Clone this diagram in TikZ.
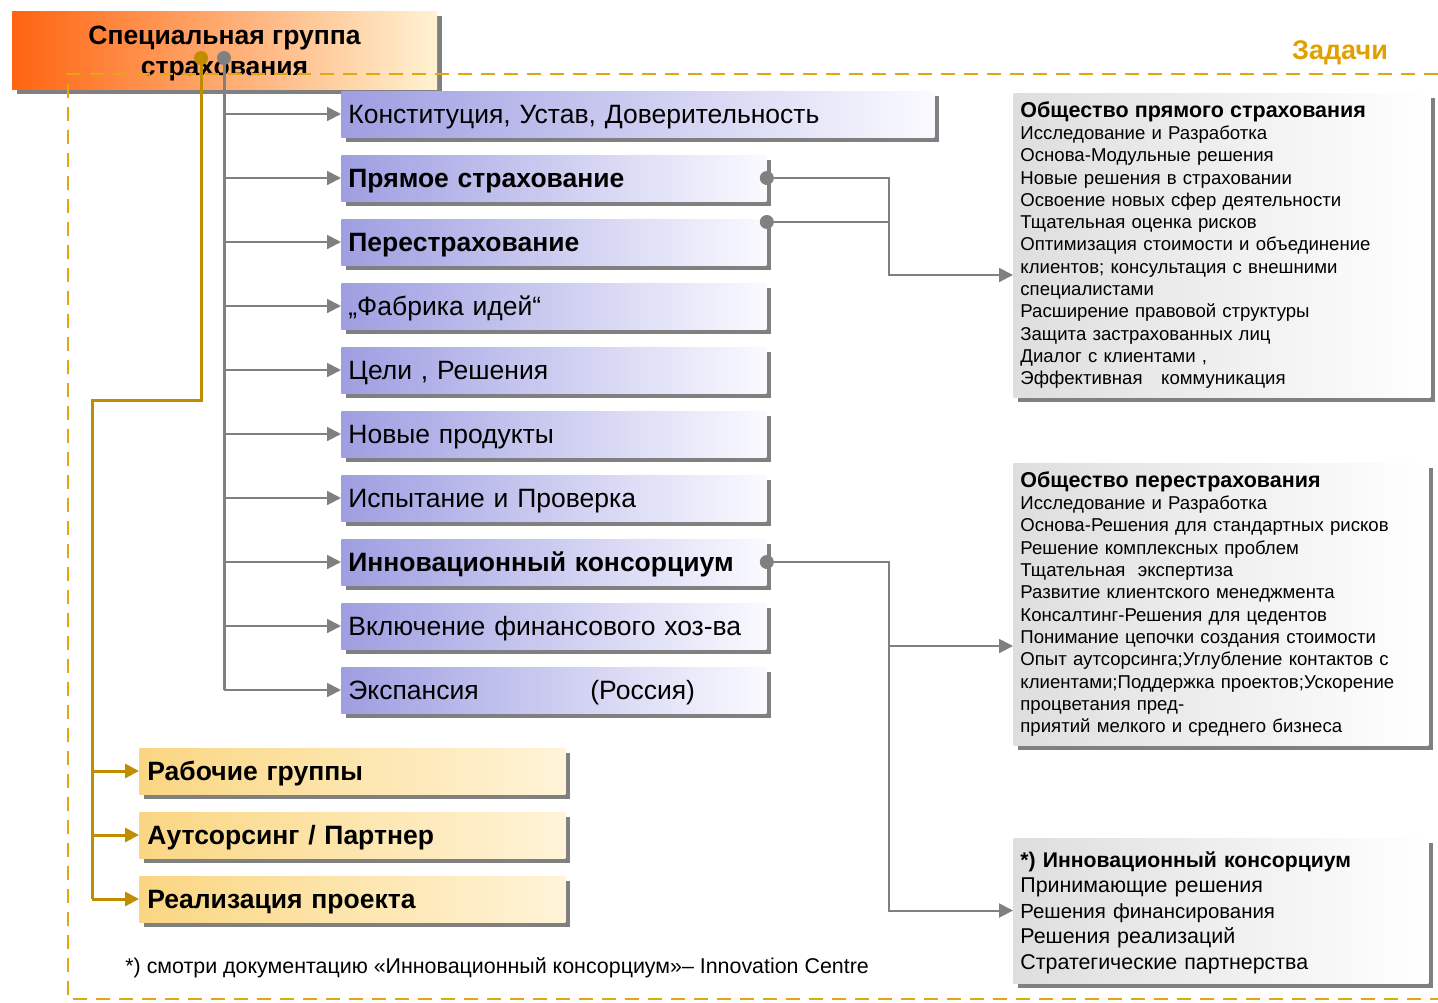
\documentclass[tikz,border=0pt]{standalone}
\usepackage{fontspec}
\setmainfont{Liberation Sans}
\usetikzlibrary{arrows.meta,shadows}
\definecolor{shadowgray}{RGB}{128,128,128}
\definecolor{lineGray}{RGB}{128,128,128}
\definecolor{goldLine}{RGB}{192,140,0}
\definecolor{frameGold}{RGB}{224,166,20}
\definecolor{titleGold}{RGB}{224,160,0}
\definecolor{blueL}{RGB}{158,158,226}
\definecolor{blueR}{RGB}{250,250,255}
\definecolor{yelL}{RGB}{250,214,130}
\definecolor{yelR}{RGB}{255,244,216}
\definecolor{orL}{RGB}{255,100,16}
\definecolor{orR}{RGB}{255,242,210}
\definecolor{grL}{RGB}{222,222,222}
\newcommand\fBig{\fontsize{13.25}{15.5}\selectfont}
\newcommand\fMid{\fontsize{10.7}{12}\selectfont}
\newcommand\fSm{\fontsize{9.3}{11.15}\selectfont}
\newcommand\lowr[1]{\raisebox{-1pt}[\height][\depth]{#1}}
\tikzset{
  sh/.style={general shadow={fill=shadowgray, shadow xshift=2.5pt, shadow yshift=-2.5pt}},
  hdrbox/.style={sh, left color=orL, right color=orR, minimum width=212.5pt, minimum height=39pt,
    inner sep=0pt, font=\fBig\bfseries},
  bluebox/.style={sh, left color=blueL, right color=blueR, anchor=west, minimum height=23pt,
    inner xsep=3.5pt, inner ysep=0pt, text width=205.5pt, align=left, font=\fBig,
    text height=12pt, text depth=2.5pt},
  ybox/.style={sh, left color=yelL, right color=yelR, anchor=west, minimum height=23pt,
    inner xsep=4pt, inner ysep=0pt, text width=205pt, align=left, font=\fBig\bfseries,
    text height=12pt, text depth=2.5pt},
  rbox/.style={sh, left color=grL, right color=white, anchor=west,
    inner xsep=3.5pt, inner ysep=0pt, align=left, font=\fSm},
  gl/.style={draw=lineGray, line width=1pt},
  garrow/.style={gl, -{Triangle[length=7pt,width=7pt]}},
  yl/.style={draw=goldLine, line width=1.5pt},
  yarrow/.style={yl, -{Triangle[length=7pt,width=7pt]}},
  gdotst/.style={circle, fill=lineGray, inner sep=0pt, minimum size=7pt},
  ydotst/.style={circle, fill=goldLine, inner sep=0pt, minimum size=7pt},
  dashframe/.style={draw=frameGold, line width=1pt, dash pattern=on 7pt off 4.5pt},
}
\begin{document}
\begin{tikzpicture}[x=0.5pt,y=-0.5pt]
\useasboundingbox (0,0) rectangle (1438,1002);
\fill[white] (0,0) rectangle (1438,1002);

% header
\node[hdrbox] (hdr) at (224.5,50) {\raisebox{-2pt}[\height][\depth]{\begin{tabular}{@{}c@{}}Специальная группа\\страхования\end{tabular}}};
\node[font=\fontsize{13.5}{15}\selectfont\bfseries, text=titleGold] (tasks) at (1340,53) {Задачи};

% dashed frame
\draw[dashframe] (1438,74) -- (68,74) -- (68,999) -- (1438,999);

% blue boxes
\node[bluebox, text width=289.5pt] (b1) at (341,114) {Конституция, Устав, Доверительность};
\node[bluebox, font=\fBig\bfseries] (b2) at (341,178) {Прямое страхование};
\node[bluebox, font=\fBig\bfseries] (b3) at (341,242) {Перестрахование};
\node[bluebox] (b4) at (341,306) {„Фабрика идей“};
\node[bluebox] (b5) at (341,370) {Цели , Решения};
\node[bluebox] (b6) at (341,434) {Новые продукты};
\node[bluebox] (b7) at (341,498) {Испытание и Проверка};
\node[bluebox, font=\fBig\bfseries] (b8) at (341,562) {Инновационный консорциум};
\node[bluebox] (b9) at (341,626) {Включение финансового хоз-ва};
\node[bluebox] (b10) at (341,690) {\makebox[121pt][l]{Экспансия}(Россия)};

% yellow boxes
\node[ybox] (y1) at (139,771) {Рабочие группы};
\node[ybox] (y2) at (139,835) {Аутсорсинг / Партнер};
\node[ybox] (y3) at (139,899) {Реализация проекта};

% right boxes
\node[rbox, text width=201.5pt, minimum height=152pt] (r1) at (1013,245) {%
\textbf{\fontsize{10.75}{11.15}\selectfont Общество прямого страхования}\\
Исследование и Разработка\\
Основа-Модульные решения\\
Новые решения в страховании\\
Освоение новых сфер деятельности\\
Тщательная оценка рисков\\
Оптимизация стоимости и объединение\\
клиентов; консультация с внешними\\
специалистами\\
Расширение правовой структуры\\
Защита застрахованных лиц\\
Диалог с клиентами ,\\
Эффективная\ \ \ коммуникация};
\node[rbox, text width=200.5pt, minimum height=141pt] (r2) at (1013,604) {%
\textbf{\fontsize{10.75}{11.15}\selectfont Общество перестрахования}\\
Исследование и Разработка\\
Основа-Решения для стандартных рисков\\
Решение комплексных проблем\\
Тщательная\ \ экспертиза\\
Развитие клиентского менеджмента\\
Консалтинг-Решения для цедентов\\
Понимание цепочки создания стоимости\\
Опыт аутсорсинга;Углубление контактов с\\
клиентами;Поддержка проектов;Ускорение\\
процветания пред-\\
приятий мелкого и среднего бизнеса};
\node[rbox, text width=200.5pt, minimum height=72.5pt, font=\fontsize{10.7}{12.75}\selectfont] (r3) at (1013,910.5) {%
\lowr{\textbf{\fontsize{10.6}{12.75}\selectfont *) Инновационный консорциум}}\\
\lowr{Принимающие решения}\\
\lowr{\fontsize{10.2}{12.75}\selectfont Решения финансирования}\\
\lowr{Решения реализаций}\\
\lowr{Стратегические партнерства}};

% footnote
\node[anchor=west, font=\fMid, inner sep=0pt] (fn) at (125,968) {*) смотри документацию «Инновационный консорциум»– Innovation Centre};

% gold connectors
\node[ydotst] (gdot) at (201,58) {};
\coordinate (gk) at (92,400);
\draw[yl] (gdot.center) -- (gdot.center |- gk) -- (gk) -- (gk |- y3.west);
\foreach \i in {1,2,3} \draw[yarrow] (gk |- y\i.west) -- (y\i.west);

% gray trunk
\node[gdotst] (pdot) at (224,58) {};
\draw[gl, line width=1.5pt] (pdot.center) -- (pdot.center |- b10.west);
\foreach \i in {1,...,10} \draw[garrow] (pdot.center |- b\i.west) -- (b\i.west);

% right connectors
\node[gdotst] (d1) at (b2.east) {};
\node[gdotst] (d2) at ([yshift=10pt]b3.east) {};
\node[gdotst] (d3) at (b8.east) {};
\coordinate (vx) at (889,0);
\coordinate (r1in) at ([yshift=-15pt]r1.west);
\coordinate (r2in) at ([yshift=-21pt]r2.west);
\draw[garrow] (d1.center) -| (vx |- r1in) -- (r1in);
\draw[gl] (d2.center) -- (vx |- d2);
\draw[garrow] (d3.center) -| (vx |- r3.west) -- (r3.west);
\draw[garrow] (vx |- r2in) -- (r2in);
\end{tikzpicture}
\end{document}
